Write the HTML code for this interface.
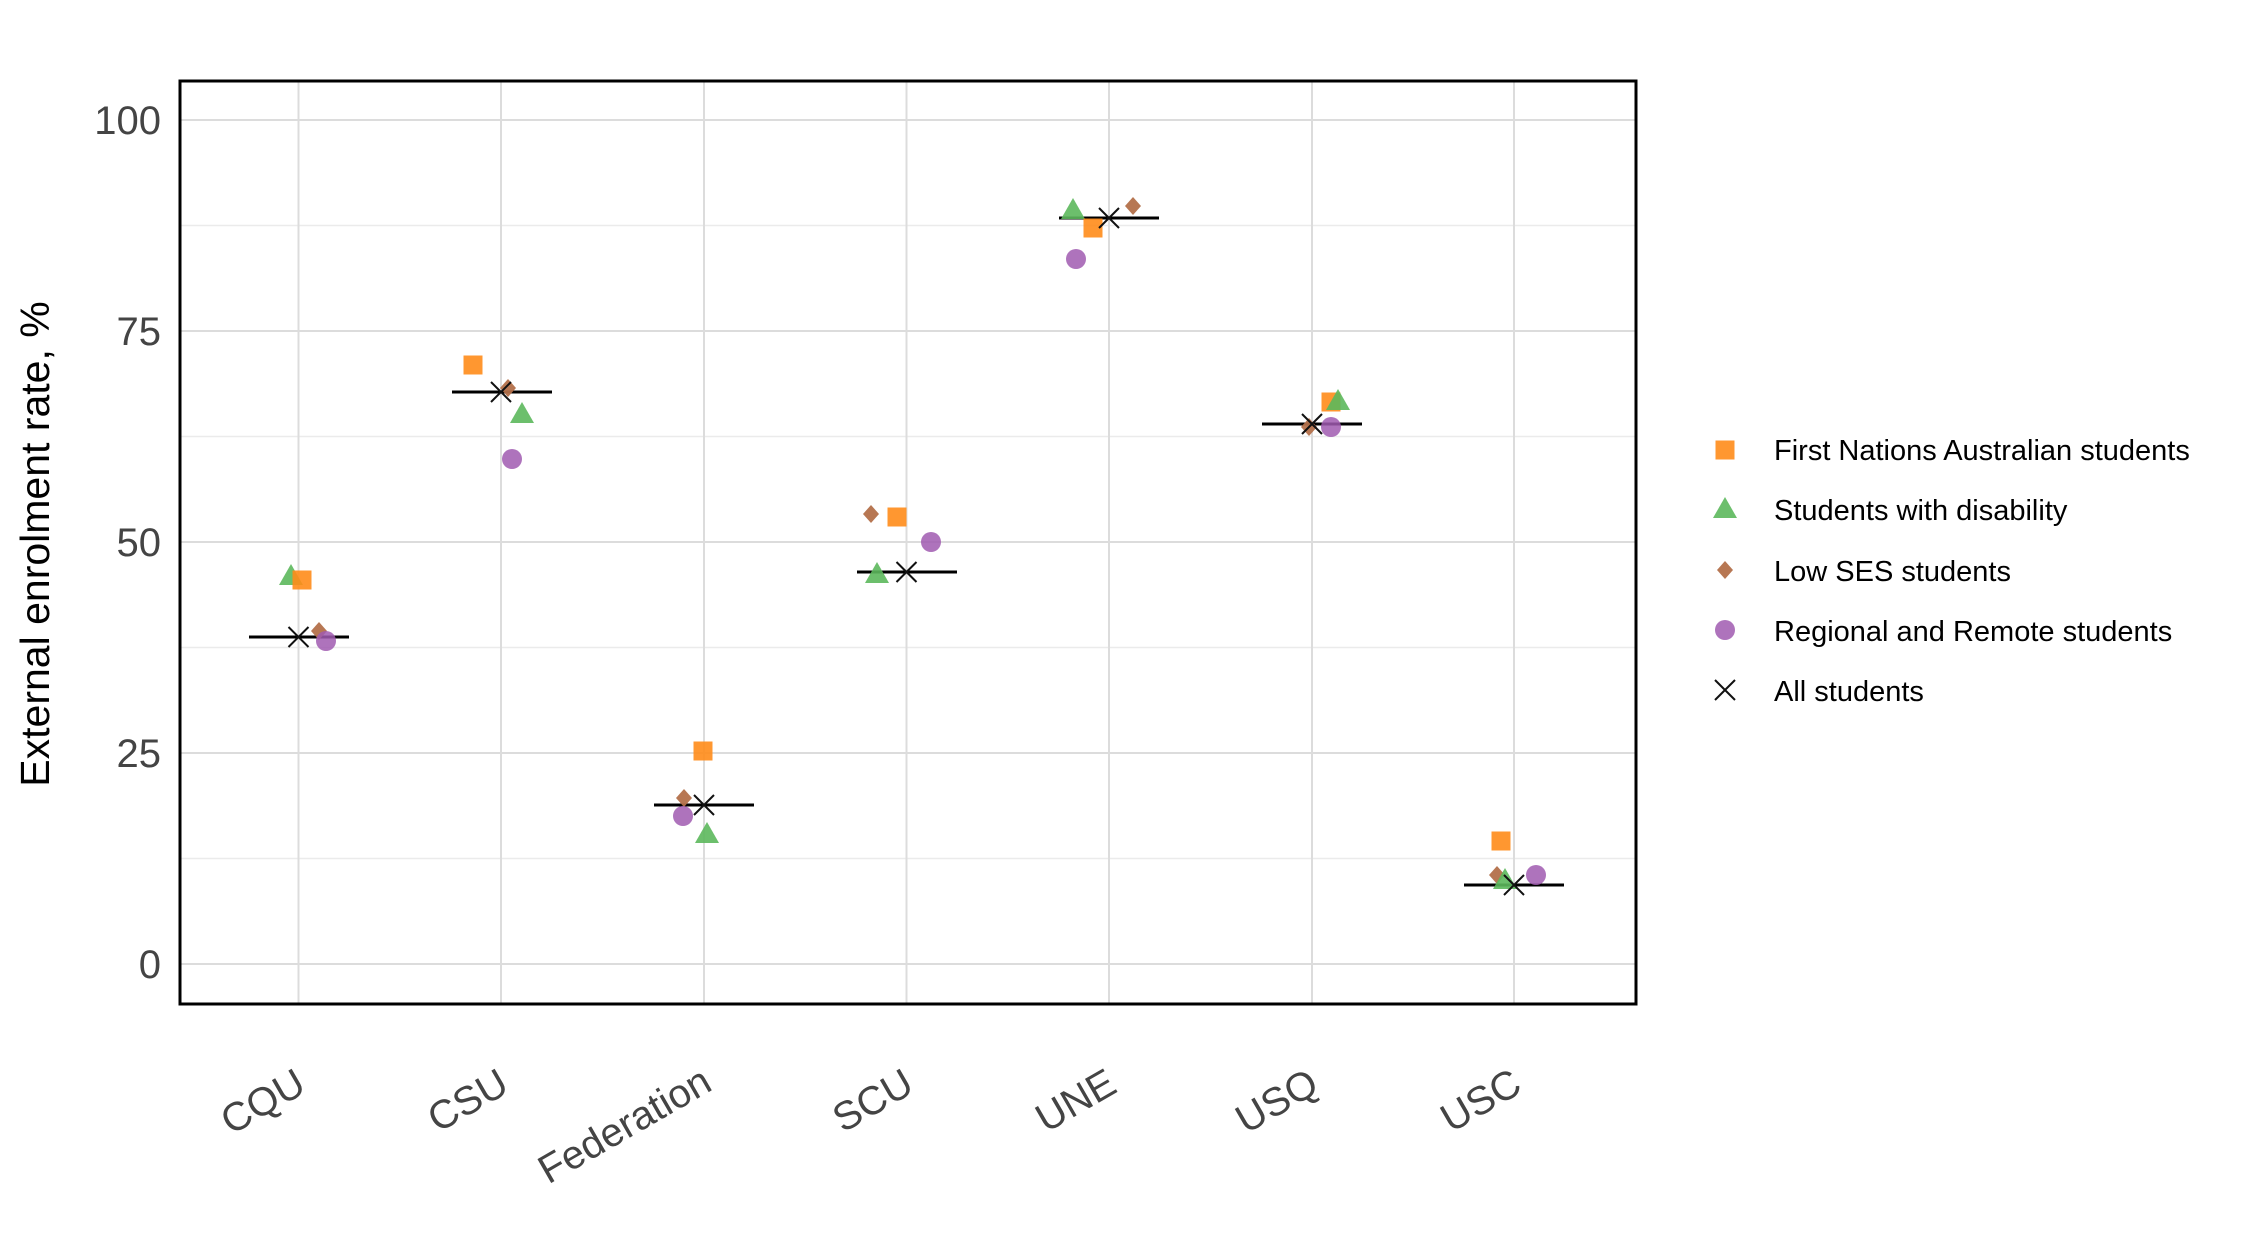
<!DOCTYPE html>
<html><head><meta charset="utf-8"><style>
html,body{margin:0;padding:0;background:#fff;}
svg{display:block;font-family:"Liberation Sans",Arial,sans-serif;}
</style></head><body>
<svg width="2250" height="1250" viewBox="0 0 2250 1250" xmlns="http://www.w3.org/2000/svg">
<rect width="2250" height="1250" fill="#fff"/>
<g stroke="#ebebeb" stroke-width="1.5">
<line x1="180" x2="1636" y1="858.5" y2="858.5"/>
<line x1="180" x2="1636" y1="647.5" y2="647.5"/>
<line x1="180" x2="1636" y1="436.5" y2="436.5"/>
<line x1="180" x2="1636" y1="225.5" y2="225.5"/>
</g>
<g stroke="#dcdcdc" stroke-width="2">
<line x1="180" x2="1636" y1="964" y2="964"/>
<line x1="180" x2="1636" y1="753" y2="753"/>
<line x1="180" x2="1636" y1="542" y2="542"/>
<line x1="180" x2="1636" y1="331" y2="331"/>
<line x1="180" x2="1636" y1="120" y2="120"/>
<line x1="298.5" x2="298.5" y1="81" y2="1004"/>
<line x1="501" x2="501" y1="81" y2="1004"/>
<line x1="704" x2="704" y1="81" y2="1004"/>
<line x1="906.5" x2="906.5" y1="81" y2="1004"/>
<line x1="1109" x2="1109" y1="81" y2="1004"/>
<line x1="1312" x2="1312" y1="81" y2="1004"/>
<line x1="1514" x2="1514" y1="81" y2="1004"/>
</g>
<rect x="180" y="81" width="1456" height="923" fill="none" stroke="#000" stroke-width="3"/>
<g fill="#444" font-size="40" text-anchor="end">
<text x="161" y="978">0</text>
<text x="161" y="767">25</text>
<text x="161" y="556">50</text>
<text x="161" y="345">75</text>
<text x="161" y="134">100</text>
</g>
<text transform="translate(49,544) rotate(-90)" text-anchor="middle" font-size="41" fill="#000">External enrolment rate, %</text>
<g fill="#444" font-size="40" text-anchor="end">
<text transform="translate(308,1091) rotate(-30)">CQU</text>
<text transform="translate(511,1091) rotate(-30)">CSU</text>
<text transform="translate(714,1089) rotate(-30)">Federation</text>
<text transform="translate(916,1091) rotate(-30)">SCU</text>
<text transform="translate(1119,1091) rotate(-30)">UNE</text>
<text transform="translate(1321,1091) rotate(-30)">USQ</text>
<text transform="translate(1524,1091) rotate(-30)">USC</text>
</g>
<defs>
<g id="sq"><rect x="-9.5" y="-9.5" width="19" height="19" fill="#ff8c1a" fill-opacity="0.9"/></g>
<g id="tr"><polygon points="0,-12 12,9 -12,9" fill="#5cb85c" fill-opacity="0.9"/></g>
<g id="di"><polygon points="0,-9 8,0 0,9 -8,0" fill="#b3704a" fill-opacity="0.95"/></g>
<g id="ci"><circle r="10" fill="#a05ab0" fill-opacity="0.85"/></g>
<g id="xx"><path d="M-10,-10L10,10M-10,10L10,-10" stroke="#111" stroke-width="2"/></g>
</defs>
<line x1="249" x2="349" y1="637" y2="637" stroke="#000" stroke-width="3"/>
<use href="#tr" x="291" y="576"/><use href="#sq" x="302" y="580"/><use href="#di" x="319" y="631"/><use href="#ci" x="326" y="641"/><use href="#xx" x="298.5" y="637"/>
<line x1="452" x2="552" y1="392" y2="392" stroke="#000" stroke-width="3"/>
<use href="#sq" x="473" y="365"/><use href="#di" x="508" y="388"/><use href="#tr" x="522" y="414"/><use href="#ci" x="512" y="459"/><use href="#xx" x="501" y="392"/>
<line x1="654" x2="754" y1="805" y2="805" stroke="#000" stroke-width="3"/>
<use href="#sq" x="703" y="751"/><use href="#di" x="684" y="798"/><use href="#ci" x="683" y="816"/><use href="#tr" x="707" y="834"/><use href="#xx" x="704" y="805"/>
<line x1="857" x2="957" y1="572" y2="572" stroke="#000" stroke-width="3"/>
<use href="#di" x="871" y="514"/><use href="#sq" x="897" y="517"/><use href="#ci" x="931" y="542"/><use href="#tr" x="877" y="574"/><use href="#xx" x="906.5" y="572"/>
<line x1="1059" x2="1159" y1="218" y2="218" stroke="#000" stroke-width="3"/>
<use href="#tr" x="1073" y="210"/><use href="#sq" x="1093" y="228"/><use href="#di" x="1133" y="206"/><use href="#ci" x="1076" y="259"/><use href="#xx" x="1109" y="218"/>
<line x1="1262" x2="1362" y1="424" y2="424" stroke="#000" stroke-width="3"/>
<use href="#sq" x="1331" y="402"/><use href="#tr" x="1338" y="401"/><use href="#di" x="1309" y="427"/><use href="#ci" x="1331" y="427"/><use href="#xx" x="1312" y="424"/>
<line x1="1464" x2="1564" y1="885" y2="885" stroke="#000" stroke-width="3"/>
<use href="#sq" x="1501" y="841"/><use href="#di" x="1497" y="875"/><use href="#tr" x="1505" y="880"/><use href="#ci" x="1536" y="875"/><use href="#xx" x="1514" y="885"/>
<use href="#sq" x="1725" y="450"/>
<use href="#tr" x="1725" y="509"/>
<use href="#di" x="1725" y="570"/>
<use href="#ci" x="1725" y="630"/>
<use href="#xx" x="1725" y="690"/>
<g font-size="29" fill="#000">
<text x="1774" y="460">First Nations Australian students</text>
<text x="1774" y="520">Students with disability</text>
<text x="1774" y="581">Low SES students</text>
<text x="1774" y="641">Regional and Remote students</text>
<text x="1774" y="701">All students</text>
</g>
</svg>
</body></html>
